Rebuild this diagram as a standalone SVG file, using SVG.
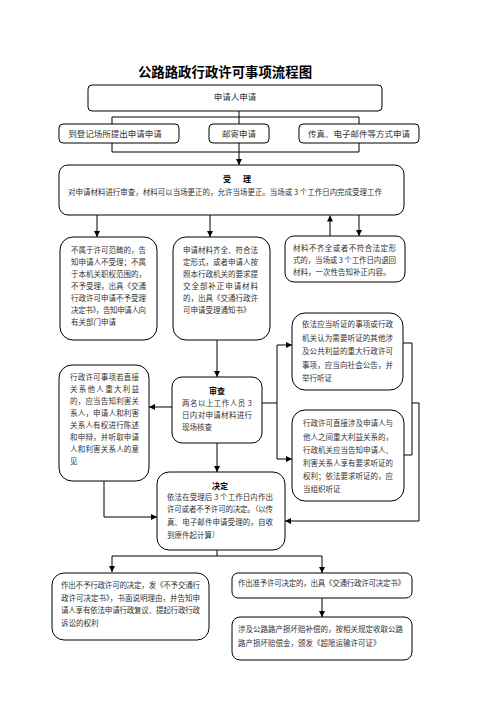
<svg xmlns="http://www.w3.org/2000/svg" width="496" height="702" viewBox="0 0 496 702">
<style>
.b{fill:#fff;stroke:#000;stroke-width:1}
.t{font-family:"Noto Sans CJK SC","Liberation Serif",sans-serif;font-size:7.5px;fill:#333}
.m{font-family:"Noto Sans CJK SC","Liberation Serif",sans-serif;font-size:8.5px;fill:#333;text-anchor:middle}
.h{font-family:"Noto Sans CJK SC","Liberation Sans",sans-serif;font-size:8px;font-weight:bold;fill:#000;text-anchor:middle}
.c path{fill:none;stroke:#000;stroke-width:1}
.c path.a{marker-end:url(#ar)}
</style>
<defs>
<marker id="ar" viewBox="0 0 10 10" refX="10" refY="5" markerWidth="6" markerHeight="6" orient="auto" markerUnits="userSpaceOnUse"><path d="M0,0 L10,5 L0,10z" fill="#000"/></marker>
</defs>
<rect width="496" height="702" fill="#fff"/>
<text x="225" y="77" font-family="Noto Sans CJK SC,sans-serif" font-size="13.4" font-weight="bold" text-anchor="middle" fill="#000">公路路政行政许可事项流程图</text>

<g class="c">
<path d="M239,111 V124"/>
<path d="M112,124 V117 H359 V124"/>
<path d="M112,143 V152 H359 V143"/>
<path class="a" d="M239,143 V165"/>
<path class="a" d="M97,215 V237"/>
<path class="a" d="M210,215 V237"/>
<path class="a" d="M359,215 V236"/>
<path class="a" d="M330,236 V215.5"/>
<path class="a" d="M217,340 V377"/>
<path class="a" d="M172,407 H149"/>
<path d="M262,403 H277 M277,345 V459"/>
<path class="a" d="M277,345 H292"/>
<path class="a" d="M277,459 H292"/>
<path d="M403,343 H412 V455 H404"/>
<path class="a" d="M412,403 H419 V521 H285"/>
<path class="a" d="M104,481 V517 H157"/>
<path class="a" d="M217,443 V472"/>
<path d="M217,550 V556 M112,556 H322"/>
<path class="a" d="M112,556 V572"/>
<path class="a" d="M322,556 V573"/>
<path class="a" d="M322,598 V617"/>
</g>

<g id="apply">
<rect class="b" x="88" y="85" width="294" height="26" rx="4"/>
<text class="m" x="235" y="100">申请人申请</text>
</g>
<g id="onsite">
<rect class="b" x="59" y="124" width="120" height="19" rx="4"/>
<text class="m" x="115" y="136.5">到登记场所提出申请申请</text>
</g>
<g id="mail">
<rect class="b" x="209" y="124" width="60" height="19" rx="4"/>
<text class="m" x="239" y="136.5">邮寄申请</text>
</g>
<g id="fax">
<rect class="b" x="299" y="124" width="120" height="19" rx="4"/>
<text class="m" x="359" y="136.5">传真、电子邮件等方式申请</text>
</g>

<g id="accept">
<rect class="b" x="59" y="165" width="345" height="50" rx="9"/>
<text class="h" x="237" y="182" font-size="9">受<tspan dx="12">理</tspan></text>
<text class="t" x="68" y="195" textLength="314" lengthAdjust="spacing">对申请材料进行审查，材料可以当场更正的，允许当场更正。当场或 3 个工作日内完成受理工作</text>
</g>

<g id="reject">
<rect class="b" x="60" y="237" width="97" height="103" rx="13"/>
<text class="t">
<tspan x="71" y="253" textLength="75" lengthAdjust="spacing">不属于许可范畴的，告</tspan>
<tspan x="71" y="265" textLength="75" lengthAdjust="spacing">知申请人不受理；不属</tspan>
<tspan x="71" y="277" textLength="75" lengthAdjust="spacing">于本机关职权范围的，</tspan>
<tspan x="71" y="289" textLength="75" lengthAdjust="spacing">不予受理，出具《交通</tspan>
<tspan x="71" y="301" textLength="75" lengthAdjust="spacing">行政许可申请不予受理</tspan>
<tspan x="71" y="313" textLength="75" lengthAdjust="spacing">决定书》，告知申请人向</tspan>
<tspan x="71" y="325">有关部门申请</tspan>
</text>
</g>

<g id="complete">
<rect class="b" x="173" y="237" width="97" height="103" rx="13"/>
<text class="t">
<tspan x="183" y="253" textLength="75" lengthAdjust="spacing">申请材料齐全、符合法</tspan>
<tspan x="183" y="265" textLength="75" lengthAdjust="spacing">定形式，或者申请人按</tspan>
<tspan x="183" y="277" textLength="75" lengthAdjust="spacing">照本行政机关的要求提</tspan>
<tspan x="183" y="289" textLength="75" lengthAdjust="spacing">交全部补正申请材料</tspan>
<tspan x="183" y="301" textLength="75" lengthAdjust="spacing">的，出具《交通行政许</tspan>
<tspan x="183" y="313">可申请受理通知书》</tspan>
</text>
</g>

<g id="incomplete">
<rect class="b" x="285" y="236" width="120" height="46" rx="9"/>
<text class="t">
<tspan x="293" y="251" textLength="103" lengthAdjust="spacing">材料不齐全或者不符合法定形</tspan>
<tspan x="293" y="263" textLength="103" lengthAdjust="spacing">式的，当场或 3 个工作日内退回</tspan>
<tspan x="293" y="275">材料，一次性告知补正内容。</tspan>
</text>
</g>

<g id="review">
<rect class="b" x="172" y="377" width="90" height="66" rx="10"/>
<text class="h" x="217" y="394">审查</text>
<text class="t">
<tspan x="182" y="406" textLength="70" lengthAdjust="spacing">两名以上工作人员 3</tspan>
<tspan x="182" y="418" textLength="70" lengthAdjust="spacing">日内对申请材料进行</tspan>
<tspan x="182" y="430">现场核查</tspan>
</text>
</g>

<g id="stakeholder">
<rect class="b" x="59" y="365" width="90" height="116" rx="13"/>
<text class="t">
<tspan x="70" y="380" textLength="69" lengthAdjust="spacing">行政许可事项若直接</tspan>
<tspan x="70" y="392" textLength="69" lengthAdjust="spacing">关系他人重大利益</tspan>
<tspan x="70" y="404" textLength="69" lengthAdjust="spacing">的，应当告知利害关</tspan>
<tspan x="70" y="416" textLength="69" lengthAdjust="spacing">系人，申请人和利害</tspan>
<tspan x="70" y="428" textLength="69" lengthAdjust="spacing">关系人有权进行陈述</tspan>
<tspan x="70" y="440" textLength="69" lengthAdjust="spacing">和申辩，并听取申请</tspan>
<tspan x="70" y="452" textLength="69" lengthAdjust="spacing">人和利害关系人的意</tspan>
<tspan x="70" y="464">见</tspan>
</text>
</g>

<g id="hearing1">
<rect class="b" x="292" y="313" width="111" height="77" rx="13"/>
<text class="t">
<tspan x="302" y="327" textLength="91" lengthAdjust="spacing">依法应当听证的事项或行政</tspan>
<tspan x="302" y="340.5" textLength="91" lengthAdjust="spacing">机关认为需要听证的其他涉</tspan>
<tspan x="302" y="354" textLength="91" lengthAdjust="spacing">及公共利益的重大行政许可</tspan>
<tspan x="302" y="367.5" textLength="91" lengthAdjust="spacing">事项，应当向社会公告，并</tspan>
<tspan x="302" y="381">举行听证</tspan>
</text>
</g>

<g id="hearing2">
<rect class="b" x="292" y="410" width="112" height="91" rx="13"/>
<text class="t">
<tspan x="303" y="426" textLength="90" lengthAdjust="spacing">行政许可直接涉及申请人与</tspan>
<tspan x="303" y="439.5" textLength="90" lengthAdjust="spacing">他人之间重大利益关系的，</tspan>
<tspan x="303" y="452.5" textLength="90" lengthAdjust="spacing">行政机关应当告知申请人、</tspan>
<tspan x="303" y="465.5" textLength="90" lengthAdjust="spacing">利害关系人享有要求听证的</tspan>
<tspan x="303" y="478.5" textLength="90" lengthAdjust="spacing">权利；依法要求听证的，应</tspan>
<tspan x="303" y="491.5">当组织听证</tspan>
</text>
</g>

<g id="decision">
<rect class="b" x="157" y="472" width="128" height="78" rx="12"/>
<text class="h" x="220" y="489">决定</text>
<text class="t">
<tspan x="167" y="500" textLength="106" lengthAdjust="spacing">依法在受理后 3 个工作日内作出</tspan>
<tspan x="167" y="512" textLength="106" lengthAdjust="spacing">许可或者不予许可的决定。（以传</tspan>
<tspan x="167" y="525" textLength="106" lengthAdjust="spacing">真、电子邮件申请受理的，自收</tspan>
<tspan x="167" y="538">到原件起计算）</tspan>
</text>
</g>

<g id="deny">
<rect class="b" x="52" y="573" width="157" height="67" rx="12"/>
<text class="t">
<tspan x="61" y="588" textLength="139" lengthAdjust="spacing">作出不予行政许可的决定，发《不予交通行</tspan>
<tspan x="61" y="600.5" textLength="139" lengthAdjust="spacing">政许可决定书》，书面说明理由，并告知申</tspan>
<tspan x="61" y="613" textLength="139" lengthAdjust="spacing">请人享有依法申请行政复议、提起行政行政</tspan>
<tspan x="61" y="626">诉讼的权利</tspan>
</text>
</g>

<g id="grant">
<rect class="b" x="232" y="573" width="180" height="25" rx="6"/>
<text class="t" x="238" y="586" textLength="167" lengthAdjust="spacing">作出准予许可决定的，出具《交通行政许可决定书》</text>
</g>

<g id="compensation">
<rect class="b" x="232" y="617" width="180" height="43" rx="8"/>
<text class="t">
<tspan x="238" y="632" textLength="165" lengthAdjust="spacing">涉及公路路产损坏赔补偿的，按相关规定收取公路</tspan>
<tspan x="238" y="646">路产损坏赔偿金，颁发《超限运输许可证》</tspan>
</text>
</g>
</svg>
